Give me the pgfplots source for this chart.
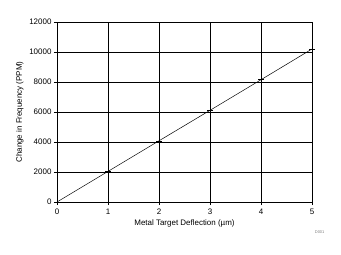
\documentclass[border=0pt]{standalone}
\usepackage{pgfplots}
\pgfplotsset{compat=1.18}
\usepackage{fontspec}
\setmainfont{Liberation Sans}
\begin{document}
\begin{tikzpicture}
\begin{axis}[
  scale only axis,
  width=255bp, height=180bp,
  xmin=0, xmax=5, ymin=0, ymax=12000,
  xtick={0,1,2,3,4,5},
  ytick={0,2000,4000,6000,8000,10000,12000},
  grid=major,
  major grid style={black, line width=0.8pt},
  axis line style={black, line width=0.8pt},
  tick style={black, line width=0.6pt},
  tick align=outside,
  major tick length=3bp,
  xtick pos=bottom, ytick pos=left,
  scaled y ticks=false,
  /pgf/number format/assume math mode=true,
  yticklabel style={/pgf/number format/fixed, /pgf/number format/1000 sep={}, font=\fontsize{8}{9}\selectfont, xshift=1bp},
  xticklabel style={font=\fontsize{8}{9}\selectfont},
  xlabel={Metal Target Deflection (µm)},
  ylabel={Change in Frequency (PPM)},
  label style={font=\fontsize{8}{9}\selectfont},
  xlabel style={yshift=1bp},
  ylabel style={yshift=-1bp},
  clip=false,
]
\addplot[black, line width=0.5pt, mark=-, mark size=3bp] coordinates {
  (0,0) (1,2040) (2,4080) (3,6110) (4,8150) (5,10200)
};
\node[font=\fontsize{4}{4}\selectfont, text=gray] at (rel axis cs:1.03,-0.17) {D001};
\path (rel axis cs:-0.2235,-0.2889) rectangle (rel axis cs:1.1137,1.1222);
\end{axis}
\end{tikzpicture}
\end{document}
